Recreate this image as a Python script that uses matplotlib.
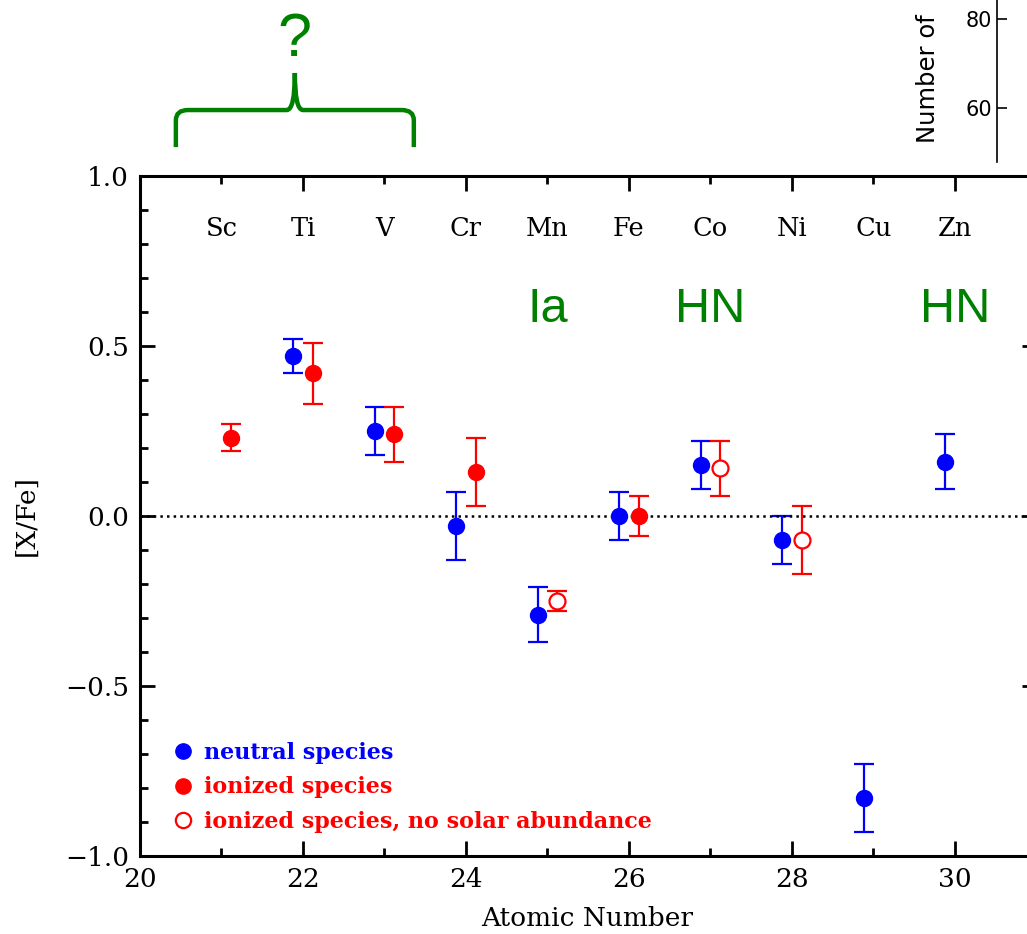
import matplotlib
matplotlib.use("Agg")
import matplotlib.pyplot as plt
from matplotlib.lines import Line2D
from matplotlib.path import Path
from matplotlib.patches import PathPatch
from matplotlib.ticker import MultipleLocator

# ==============================
# Data
# ==============================
elements = ["Sc", "Ti", "V", "Cr", "Mn", "Fe", "Co", "Ni", "Cu", "Zn"]
element_z = [21, 22, 23, 24, 25, 26, 27, 28, 29, 30]

neutral_z = [22, 23, 24, 25, 26, 27, 28, 29, 30]
neutral_val = [0.47, 0.25, -0.03, -0.29, 0.00, 0.15, -0.07, -0.83, 0.16]
neutral_err = [0.05, 0.07, 0.10, 0.08, 0.07, 0.07, 0.07, 0.10, 0.08]

ion_z = [21, 22, 23, 24, 26]
ion_val = [0.23, 0.42, 0.24, 0.13, 0.00]
ion_err = [0.04, 0.09, 0.08, 0.10, 0.06]

ion_nosol_z = [25, 27, 28]
ion_nosol_val = [-0.25, 0.14, -0.07]
ion_nosol_err = [0.03, 0.08, 0.10]

origin_labels = ["Ia", "HN", "HN"]
origin_z = [25, 27, 30]

OFFSET = 0.12
SERIF = "DejaVu Serif"

# ==============================
# Figure
# ==============================
fig = plt.figure(figsize=(10.27, 9.34), dpi=100)
ax = fig.add_axes([140 / 1027, 78 / 934, 896.5 / 1027, 680 / 934])

ebkw = dict(fmt="o", markersize=11.5, capsize=7, elinewidth=1.6, capthick=1.6)
ax.errorbar([z - OFFSET for z in neutral_z], neutral_val, yerr=neutral_err,
            color="blue", **ebkw)
ax.errorbar([z + OFFSET for z in ion_z], ion_val, yerr=ion_err,
            color="red", **ebkw)
ax.errorbar([z + OFFSET for z in ion_nosol_z], ion_nosol_val, yerr=ion_nosol_err,
            color="red", mfc="white", mec="red", mew=1.6, **ebkw)

ax.axhline(0, color="black", linestyle=":", linewidth=1.8)

for z, name in zip(element_z, elements):
    ax.text(z, 0.847, name, ha="center", va="center", fontsize=18.5, family=SERIF)

for z, name in zip(origin_z, origin_labels):
    ax.text(z, 0.606, name, ha="center", va="center", fontsize=35,
            color="green", family="Liberation Sans")

# curly bracket with question mark above the axes
xl, xm, xr = 20.44, 21.90, 23.36
y0, y1, y2 = 1.085, 1.194, 1.303
verts = [
    (xl, y0), (xl, y1 - 0.03),
    (xl, y1), (xl + 0.15, y1),
    (xm - 0.10, y1),
    (xm, y1), (xm, y2),
    (xm, y1), (xm + 0.10, y1),
    (xr - 0.15, y1),
    (xr, y1), (xr, y1 - 0.03),
    (xr, y0),
]
codes = [Path.MOVETO, Path.LINETO,
         Path.CURVE3, Path.CURVE3,
         Path.LINETO,
         Path.CURVE3, Path.CURVE3,
         Path.CURVE3, Path.CURVE3,
         Path.LINETO,
         Path.CURVE3, Path.CURVE3,
         Path.LINETO]
ax.add_patch(PathPatch(Path(verts, codes), facecolor="none", edgecolor="green",
                       linewidth=3.2, clip_on=False))
ax.text(21.9, 1.40, "?", ha="center", va="center", fontsize=44,
        color="green", family="Liberation Sans")

ax.set_xlim(20, 31)
ax.set_ylim(-1.0, 1.0)
ax.xaxis.set_major_locator(MultipleLocator(2))
ax.xaxis.set_minor_locator(MultipleLocator(1))
ax.yaxis.set_major_locator(MultipleLocator(0.5))
ax.yaxis.set_minor_locator(MultipleLocator(0.1))
ax.tick_params(which="both", direction="in", top=True, right=True, width=2.0,
               labelsize=19, pad=8)
ax.tick_params(which="major", length=11)
ax.tick_params(which="minor", length=6)
for s in ax.spines.values():
    s.set_linewidth(2.2)
ax.set_xticks([20, 22, 24, 26, 28, 30])
ax.set_xticklabels(["20", "22", "24", "26", "28", "30"], family=SERIF)
ax.set_yticks([-1.0, -0.5, 0.0, 0.5, 1.0])
ax.set_yticklabels(["\u22121.0", "\u22120.5", "0.0", "0.5", "1.0"], family=SERIF)
ax.set_xlabel("Atomic Number", fontsize=19, family=SERIF)
ax.set_ylabel("[X/Fe]", fontsize=19, family=SERIF)
ax.xaxis.set_label_coords((587 - 140) / 896.5, -50 / 680)
ax.yaxis.set_label_coords(-(140 - 26) / 896.5, 0.5)
ax.yaxis.label.set_verticalalignment("center")

handles = [
    Line2D([], [], marker="o", ls="none", color="blue", markersize=11),
    Line2D([], [], marker="o", ls="none", color="red", markersize=11),
    Line2D([], [], marker="o", ls="none", color="red", mfc="white", mew=1.6,
           markersize=11),
]
labels = ["neutral species", "ionized species", "ionized species, no solar abundance"]
ax.legend(handles, labels, loc="lower left", bbox_to_anchor=(0.012, 0.005),
          frameon=False, labelcolor=["blue", "red", "red"], handletextpad=0.4,
          handlelength=1.1, labelspacing=0.55,
          prop={"family": SERIF, "size": 16, "weight": "bold"})

# clipped corner of a neighbouring panel
ax2 = fig.add_axes([997 / 1027, (934 - 162) / 934, 0.1, 212 / 934])
ax2.set_ylim(47.9, 95.5)
ax2.yaxis.set_major_locator(MultipleLocator(20))
for side in ["top", "right", "bottom"]:
    ax2.spines[side].set_visible(False)
ax2.spines["left"].set_linewidth(1.2)
ax2.set_xticks([])
ax2.tick_params(axis="y", direction="in", length=7, width=1.2, labelsize=15)
ax2.patch.set_alpha(0)
fig.text(928 / 1027, (934 - 143) / 934, "Number of", rotation=90,
         ha="center", va="bottom", fontsize=17.5)

fig.savefig("out.png", dpi=100)
